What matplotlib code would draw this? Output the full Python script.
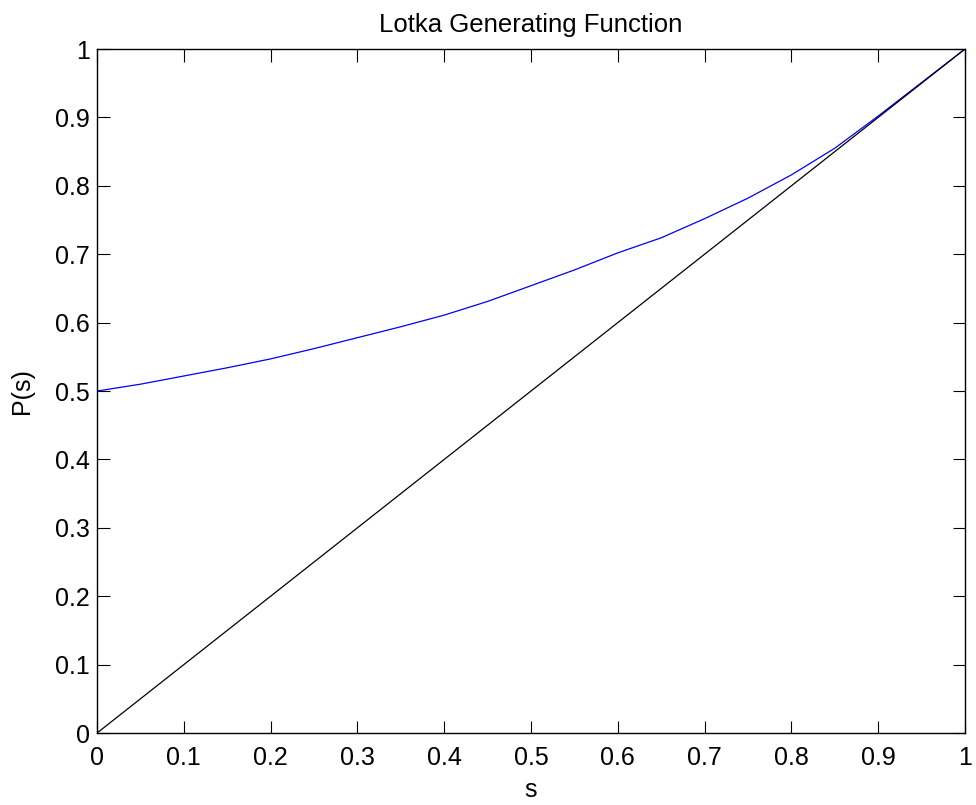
import numpy as np
import matplotlib
matplotlib.use('Agg')
import matplotlib.pyplot as plt

plt.rcParams['font.family'] = ['Liberation Sans', 'DejaVu Sans']

# values
s = [0.0, 0.05, 0.1, 0.15, 0.2, 0.25, 0.3, 0.35, 0.4, 0.45, 0.5,
     0.55, 0.6, 0.65, 0.7, 0.75, 0.8, 0.85, 0.9, 0.95, 1.0]
p_s = [0.500, 0.510, 0.522, 0.534, 0.547, 0.562, 0.578, 0.594, 0.611, 0.631, 0.654,
       0.677, 0.702, 0.724, 0.752, 0.782, 0.816, 0.855, 0.902, 0.951, 1.000]
diag = [0, 1]
ticks = np.arange(0, 1.01, 0.1)
tick_labels = ['0', '0.1', '0.2', '0.3', '0.4', '0.5', '0.6', '0.7', '0.8', '0.9', '1']

fig = plt.figure(figsize=(9.76, 8.05), dpi=100)
ax = fig.add_axes([0.0994, 0.0894, 0.8893, 0.8497])

ax.plot(s, p_s, color='#0000ff', lw=0.9)
ax.plot(diag, diag, color='black', lw=0.9)

ax.set_xlim(0, 1)
ax.set_ylim(0, 1)
ax.set_xticks(ticks)
ax.set_xticklabels(tick_labels)
ax.set_yticks(ticks)
ax.set_yticklabels(tick_labels)
ax.tick_params(direction='in', length=9, width=0.8, top=True, right=True,
               labelsize=18)
ax.tick_params(axis='x', pad=9)
ax.tick_params(axis='y', pad=5)
for sp in ax.spines.values():
    sp.set_linewidth(1.0)

ax.set_xlabel('s', fontsize=18, labelpad=6)
ax.set_ylabel('P(s)', fontsize=18, labelpad=15)
ax.set_title('Lotka Generating Function', fontsize=18.5, pad=12)

fig.savefig('out.png', dpi=100)
